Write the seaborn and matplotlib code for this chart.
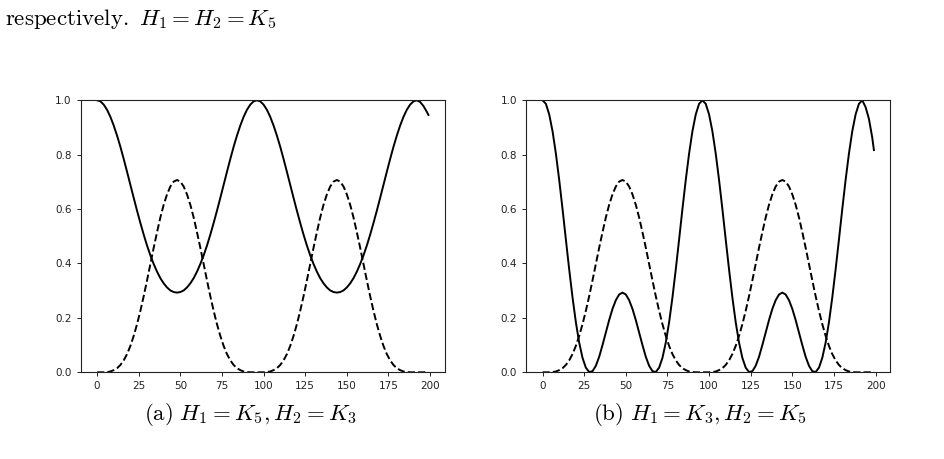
import matplotlib
matplotlib.use("Agg")
import matplotlib.pyplot as plt
import seaborn as sns

plt.rcParams['mathtext.fontset'] = 'cm'
plt.rcParams['font.family'] = ['DejaVu Sans']

# time steps
steps = list(range(0, 200, 2)) + [199]

# probability at the target (dashed), the same in both panels
p_target = [
    0.000, 0.000, 0.000, 0.001, 0.003, 0.008, 0.015, 0.027, 0.044, 0.067, 0.097, 0.134, 0.177,
    0.226, 0.280, 0.338, 0.398, 0.458, 0.515, 0.569, 0.616, 0.654, 0.683, 0.701, 0.707,
    0.701, 0.683, 0.654, 0.616, 0.569, 0.515, 0.458, 0.398, 0.338, 0.280, 0.226, 0.177,
    0.134, 0.097, 0.067, 0.044, 0.027, 0.015, 0.008, 0.003, 0.001, 0.000, 0.000, 0.000,
    0.000, 0.000, 0.001, 0.003, 0.008, 0.015, 0.027, 0.044, 0.067, 0.097, 0.134, 0.177,
    0.226, 0.280, 0.338, 0.398, 0.458, 0.515, 0.569, 0.616, 0.654, 0.683, 0.701, 0.707,
    0.701, 0.683, 0.654, 0.616, 0.569, 0.515, 0.458, 0.398, 0.338, 0.280, 0.226, 0.177,
    0.134, 0.097, 0.067, 0.044, 0.027, 0.015, 0.008, 0.003, 0.001, 0.000, 0.000, 0.000,
    0.000, 0.000, 0.001, 0.002,
]

# probability at the start, (a) H1 = K5, H2 = K3
p_start_a = [
    1.000, 0.996, 0.984, 0.965, 0.939, 0.907, 0.870, 0.829, 0.784, 0.737, 0.689, 0.641, 0.594,
    0.549, 0.506, 0.466, 0.430, 0.398, 0.370, 0.346, 0.327, 0.312, 0.301, 0.295, 0.293,
    0.295, 0.301, 0.312, 0.327, 0.346, 0.370, 0.398, 0.430, 0.466, 0.506, 0.549, 0.594,
    0.641, 0.689, 0.737, 0.784, 0.829, 0.870, 0.907, 0.939, 0.965, 0.984, 0.996, 1.000,
    0.996, 0.984, 0.965, 0.939, 0.907, 0.870, 0.829, 0.784, 0.737, 0.689, 0.641, 0.594,
    0.549, 0.506, 0.466, 0.430, 0.398, 0.370, 0.346, 0.327, 0.312, 0.301, 0.295, 0.293,
    0.295, 0.301, 0.312, 0.327, 0.346, 0.370, 0.398, 0.430, 0.466, 0.506, 0.549, 0.594,
    0.641, 0.689, 0.737, 0.784, 0.829, 0.870, 0.907, 0.939, 0.965, 0.984, 0.996, 1.000,
    0.994, 0.979, 0.958, 0.946,
]

# probability at the start, (b) H1 = K3, H2 = K5
p_start_b = [
    1.000, 0.987, 0.948, 0.886, 0.804, 0.707, 0.600, 0.488, 0.378, 0.275, 0.184, 0.109, 0.053,
    0.017, 0.001, 0.004, 0.024, 0.057, 0.100, 0.146, 0.192, 0.233, 0.265, 0.286, 0.293,
    0.286, 0.265, 0.233, 0.192, 0.146, 0.100, 0.057, 0.024, 0.004, 0.001, 0.017, 0.053,
    0.109, 0.184, 0.275, 0.378, 0.488, 0.600, 0.707, 0.804, 0.886, 0.948, 0.987, 1.000,
    0.987, 0.948, 0.886, 0.804, 0.707, 0.600, 0.488, 0.378, 0.275, 0.184, 0.109, 0.053,
    0.017, 0.001, 0.004, 0.024, 0.057, 0.100, 0.146, 0.192, 0.233, 0.265, 0.286, 0.293,
    0.286, 0.265, 0.233, 0.192, 0.146, 0.100, 0.057, 0.024, 0.004, 0.001, 0.017, 0.053,
    0.109, 0.184, 0.275, 0.378, 0.488, 0.600, 0.707, 0.804, 0.886, 0.948, 0.987, 1.000,
    0.975, 0.932, 0.863, 0.817,
]

captions = [r"$\mathrm{(a)}\ H_1 = K_5, H_2 = K_3$", r"$\mathrm{(b)}\ H_1 = K_3, H_2 = K_5$"]
x_ticks = [0, 25, 50, 75, 100, 125, 150, 175, 200]
y_ticks = [0.0, 0.2, 0.4, 0.6, 0.8, 1.0]

fig = plt.figure(figsize=(9.44, 4.59), dpi=100)
ax_a = fig.add_axes([0.0853, 0.1889, 0.3861, 0.5926])
ax_b = fig.add_axes([0.5572, 0.1889, 0.3861, 0.5926])

for ax, start, cap, cx in [(ax_a, p_start_a, captions[0], 0.265),
                           (ax_b, p_start_b, captions[1], 0.741)]:
    sns.lineplot(x=steps, y=start, ax=ax, color='black', linewidth=1.4)
    sns.lineplot(x=steps, y=p_target, ax=ax, color='black', linewidth=1.4, linestyle='--')
    ax.set_ylim(0, 1)
    ax.set_xlim(-9.95, 208.95)
    ax.set_xticks(x_ticks)
    ax.set_yticks(y_ticks)
    ax.tick_params(labelsize=7.5, length=3, width=0.7, colors='#222222')
    for sp in ax.spines.values():
        sp.set_linewidth(0.8)
        sp.set_color('#222222')
    fig.text(cx, 1 - 415 / 459, cap, fontsize=16.5, ha='center', va='center')

# tekst boven de figuur
fig.text(5 / 944, 1 - 19 / 459, r"$\mathrm{respectively.}\ H_1 = H_2 = K_5$",
         fontsize=16.5, ha='left', va='center')

fig.savefig("out.png", dpi=100)
